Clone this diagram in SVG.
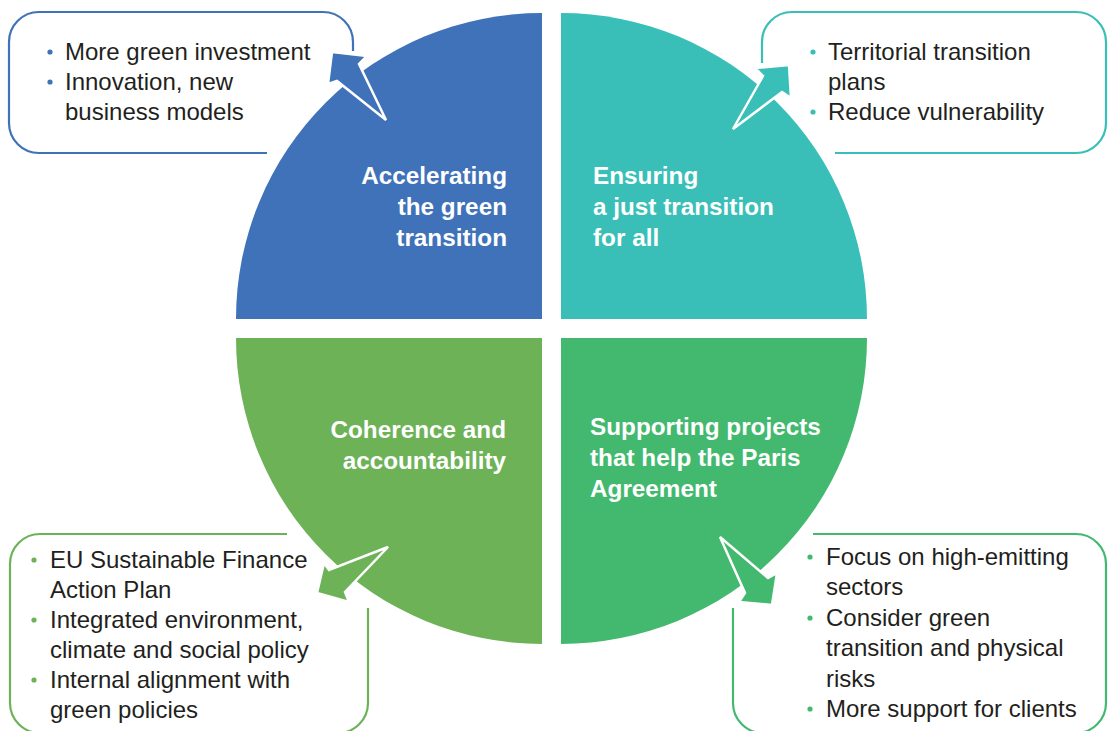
<svg xmlns="http://www.w3.org/2000/svg" width="1108" height="731" viewBox="0 0 1108 731">
<style>
.lbl{font-family:"Liberation Sans",Arial,sans-serif;font-weight:bold;font-size:24.3px;fill:#ffffff}
.txt{font-family:"Liberation Sans",Arial,sans-serif;font-size:24px;fill:#231f20}
.box{fill:none;stroke-width:2.2}
.arr{stroke:#ffffff;stroke-width:2.5;stroke-linejoin:miter}
</style>
<rect width="1108" height="731" fill="#ffffff"/>
<g id="q-accelerating">
<path d="M542,319 L236,319 A306,306 0 0 1 542,13 Z" fill="#3f72b8"/>
<text class="lbl" text-anchor="end"><tspan x="507" y="184">Accelerating</tspan><tspan x="507" y="215">the green</tspan><tspan x="507" y="246">transition</tspan></text>
</g>
<g id="q-just">
<path d="M561,319 L561,13 A306,306 0 0 1 867,319 Z" fill="#39bfb7"/>
<text class="lbl"><tspan x="593" y="184">Ensuring</tspan><tspan x="593" y="215">a just transition</tspan><tspan x="593" y="246">for all</tspan></text>
</g>
<g id="q-coherence">
<path d="M542,338 L542,644 A306,306 0 0 1 236,338 Z" fill="#6db257"/>
<text class="lbl" text-anchor="end"><tspan x="506" y="438">Coherence and</tspan><tspan x="506" y="469">accountability</tspan></text>
</g>
<g id="q-paris">
<path d="M561,338 L867,338 A306,306 0 0 1 561,644 Z" fill="#42b96e"/>
<text class="lbl"><tspan x="590" y="435">Supporting projects</tspan><tspan x="590" y="466">that help the Paris</tspan><tspan x="590" y="497">Agreement</tspan></text>
</g>
<g id="box-tl">
<path class="box" stroke="#3f72b8" d="M353,51 V42 A30,30 0 0 0 323,12 H39 A30,30 0 0 0 9,42 V123 A30,30 0 0 0 39,153 H267"/>
<circle cx="50" cy="52" r="2.6" fill="#3f72b8"/><circle cx="50" cy="82" r="2.6" fill="#3f72b8"/>
<text class="txt"><tspan x="65" y="60">More green investment</tspan><tspan x="65" y="90">Innovation, new</tspan><tspan x="65" y="120">business models</tspan></text>
</g>
<g id="box-tr">
<path class="box" stroke="#39bfb7" d="M762,63 V42 A30,30 0 0 1 792,12 H1076 A30,30 0 0 1 1106,42 V123 A30,30 0 0 1 1076,153 H835"/>
<circle cx="813" cy="52" r="2.6" fill="#39bfb7"/><circle cx="813" cy="112" r="2.6" fill="#39bfb7"/>
<text class="txt"><tspan x="828" y="60">Territorial transition</tspan><tspan x="828" y="90">plans</tspan><tspan x="828" y="120">Reduce vulnerability</tspan></text>
</g>
<g id="box-bl">
<path class="box" stroke="#6db257" d="M287,534 H40 A30,30 0 0 0 10,564 V703 A30,30 0 0 0 40,733 H338 A30,30 0 0 0 368,703 V608"/>
<circle cx="34" cy="560" r="2.6" fill="#6db257"/><circle cx="34" cy="620" r="2.6" fill="#6db257"/><circle cx="34" cy="680" r="2.6" fill="#6db257"/>
<text class="txt"><tspan x="50" y="568">EU Sustainable Finance</tspan><tspan x="50" y="598">Action Plan</tspan><tspan x="50" y="628">Integrated environment,</tspan><tspan x="50" y="658">climate and social policy</tspan><tspan x="50" y="688">Internal alignment with</tspan><tspan x="50" y="718">green policies</tspan></text>
</g>
<g id="box-br">
<path class="box" stroke="#42b96e" d="M813,534 H1076 A30,30 0 0 1 1106,564 V703 A30,30 0 0 1 1076,733 H763 A30,30 0 0 1 733,703 V608"/>
<circle cx="810" cy="557" r="2.6" fill="#42b96e"/><circle cx="810" cy="618" r="2.6" fill="#42b96e"/><circle cx="810" cy="709" r="2.6" fill="#42b96e"/>
<text class="txt"><tspan x="826" y="565">Focus on high-emitting</tspan><tspan x="826" y="595">sectors</tspan><tspan x="826" y="626">Consider green</tspan><tspan x="826" y="656">transition and physical</tspan><tspan x="826" y="687">risks</tspan><tspan x="826" y="717">More support for clients</tspan></text>
</g>
<g id="connectors">
<polygon class="arr" fill="#3f72b8" points="332,52 367,56 359,64 386,120 337,81 328,84"/>
<polygon class="arr" fill="#39bfb7" points="789,65 791,98 782,92 733,129 763,76 755,68"/>
<polygon class="arr" fill="#6db257" points="317,593 324,563 329,570 388,547 345,592 349,602"/>
<polygon class="arr" fill="#42b96e" points="772,605 739,602 745,593 720,537 768,578 777,573"/>
</g>
</svg>
